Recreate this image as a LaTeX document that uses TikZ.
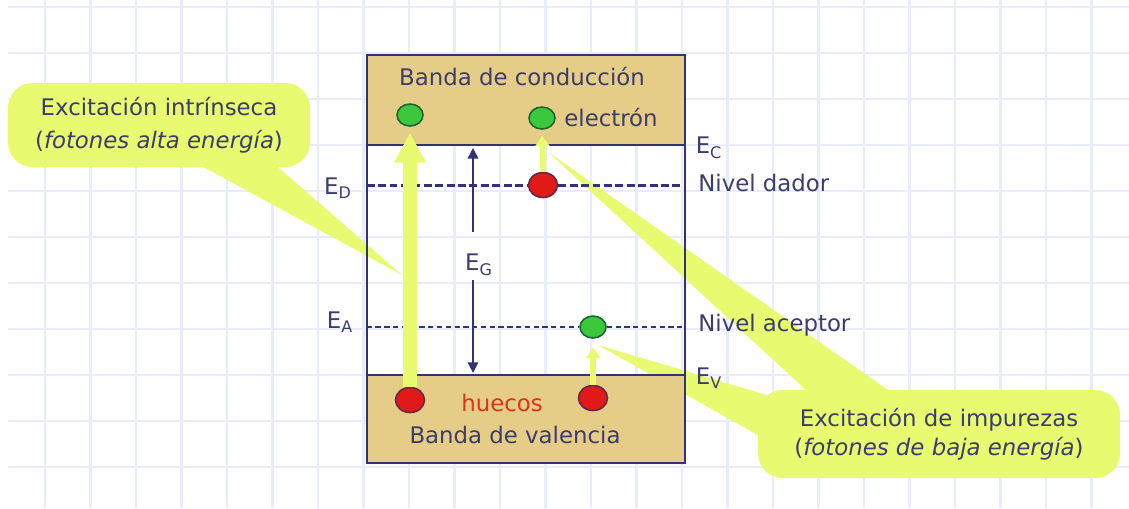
\documentclass[tikz,border=0pt]{standalone}
\usepackage{fontspec}
\setmainfont{DejaVu Sans}
\usetikzlibrary{arrows.meta, positioning, shapes.geometric, calc}

\definecolor{navy}{RGB}{50,50,120}
\definecolor{navytext}{RGB}{60,60,110}
\definecolor{bandfill}{RGB}{230,205,135}
\definecolor{calloutfill}{RGB}{232,250,112}
\definecolor{gridblue}{RGB}{232,236,252}
\definecolor{electron}{RGB}{60,200,60}
\definecolor{electronedge}{RGB}{30,100,50}
\definecolor{hole}{RGB}{225,25,25}
\definecolor{holeedge}{RGB}{100,40,70}
\definecolor{huecored}{RGB}{220,50,30}

\tikzset{
  gridline/.style={gridblue, line width=1.6pt},
  txt/.style={text=navytext, font=\fontsize{13}{15}\selectfont, inner sep=0pt},
  callout/.style={fill=calloutfill, rounded corners=14pt, text=navytext, align=center, inner sep=0pt},
  band/.style={fill=bandfill, minimum width=6.36cm, inner sep=0pt},
  frame/.style={navy, line width=1.3pt},
  elec/.style={ellipse, draw=electronedge, line width=0.9pt, fill=electron, minimum width=0.52cm, minimum height=0.44cm, inner sep=0pt},
  holedot/.style={ellipse, draw=holeedge, line width=0.9pt, fill=hole, minimum width=0.58cm, minimum height=0.5cm, inner sep=0pt},
  donorline/.style={navy, line width=1.7pt, dash pattern=on 4.5pt off 2pt},
  acceptorline/.style={navy, line width=0.6pt, dash pattern=on 3pt off 2pt},
  gaparrow/.style={navy, line width=0.8pt, -{Triangle[width=6pt,length=6pt]}},
  photon/.style={calloutfill, line width=8.5pt, -{Triangle[width=17pt,length=17pt]}},
  photonsmall/.style={calloutfill, line width=3pt, -{Triangle[width=8pt,length=6pt]}}
}

\begin{document}
\begin{tikzpicture}[x=0.02cm, y=-0.02cm]
  \useasboundingbox (0,0) rectangle (1129,508);
  % background grid
  \foreach \i in {0,...,23}
    \draw[gridline] ({45+45.5*\i},0) -- ({45+45.5*\i},508);
  \foreach \j in {0,...,10}
    \draw[gridline] (8,{7+46*\j}) -- (1129,{7+46*\j});

  % callouts
  \node[callout, minimum width=6.04cm, minimum height=1.68cm, font=\fontsize{13}{18.5}\selectfont] (cin) at (159,125)
    {Excitación intrínseca\\(\textit{fotones alta energía})};
  \coordinate (tipin) at (402,275);
  \fill[calloutfill] ([xshift=0.58cm,yshift=5pt]cin.south) -- (tipin) -- ([xshift=2.18cm,yshift=5pt]cin.south) -- cycle;

  \node[callout, minimum width=7.24cm, minimum height=1.76cm, font=\fontsize{13}{16.5}\selectfont] (cimp) at (939,434)
    {Excitación de impurezas\\(\textit{fotones de baja energía})};
  \coordinate (tipdn) at (548,152);
  \coordinate (tipac) at (598,345);
  \fill[calloutfill] ([xshift=-2.48cm,yshift=-5pt]cimp.north) -- (tipdn) -- ([xshift=-0.78cm,yshift=-5pt]cimp.north) -- cycle;
  \fill[calloutfill] ([xshift=5pt,yshift=0.78cm]cimp.west) -- (tipac) -- ([xshift=5pt,yshift=-0.12cm]cimp.west) -- cycle;

  % bands
  \node[band, minimum height=1.8cm] (cb) at (526,100) {};
  \node[band, minimum height=1.76cm] (vb) at (526,419) {};
  \draw[frame] (cb.north west) rectangle (vb.south east);
  \draw[frame] (cb.south west) -- (cb.south east);
  \draw[frame] (vb.north west) -- (vb.north east);

  % carriers
  \node[elec] (eA) at (410,115) {};
  \node[elec] (eB) at (542,118) {};
  \node[holedot] (dn) at (543,185) {};
  \node[elec] (aC) at (593,327) {};
  \node[holedot] (hA) at (410,400) {};
  \node[holedot] (hC) at (593,398) {};

  % impurity levels
  \draw[donorline] (cb.west |- dn) -- (dn.west);
  \draw[donorline] (dn.east) -- (cb.east |- dn);
  \draw[acceptorline] (cb.west |- aC) -- (aC.west);
  \draw[acceptorline] (aC.east) -- (cb.east |- aC);

  % gap
  \node[txt] (eg) at (479,265) {E\textsubscript{G}};
  \coordinate (egx) at (473,265);
  \draw[gaparrow, shorten <=12.5pt, shorten >=1.5pt] (eg.north -| egx) -- (cb.south -| egx);
  \draw[gaparrow, shorten <=2pt, shorten >=1pt] (eg.south -| egx) -- (vb.north -| egx);

  % labels
  \node[txt] (tcb) at (522,77) {Banda de conducción};
  \node[txt] (tel) at (611,118) {electrón};
  \node[txt, text=huecored] (thu) at (502,403) {huecos};
  \node[txt] (tvb) at (515,435) {Banda de valencia};
  \node[txt] (ec) at (709,148) {E\textsubscript{C}};
  \node[txt] (ev) at (709,378) {E\textsubscript{V}};
  \node[txt] (ed) at (338,188) {E\textsubscript{D}};
  \node[txt] (ea) at (340,322) {E\textsubscript{A}};
  \node[txt, anchor=west] (tdn) at (698,183) {Nivel dador};
  \node[txt, anchor=west] (tac) at (698,325) {Nivel aceptor};

  % photons
  \draw[photon, shorten >=3.4pt] (hA.north) -- (eA.south);
  \draw[photonsmall, shorten >=3.4pt] (dn.north) -- (eB.south);
  \draw[photonsmall, shorten >=5pt] (hC.north) -- (aC.south);
\end{tikzpicture}
\end{document}
